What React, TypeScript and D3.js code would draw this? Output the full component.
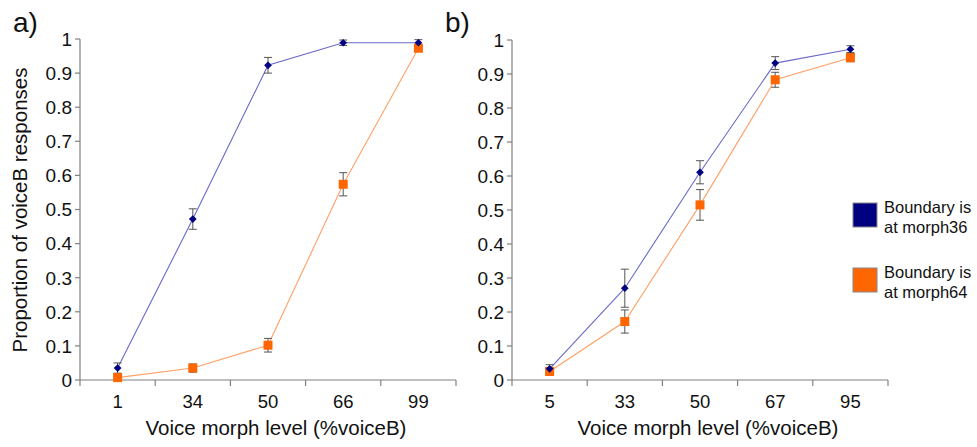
import React from 'react'
import * as d3 from 'd3'

// panel a
const levelsA = ['1', '34', '50', '66', '99']
const morph36A = [0.035, 0.472, 0.923, 0.989, 0.989]
const morph36ErrA = [0.015, 0.03, 0.023, 0.008, 0.009]
const morph64A = [0.007, 0.035, 0.102, 0.574, 0.973]
const morph64ErrA = [0.01, 0.012, 0.02, 0.034, 0.01]

// panel b
const levelsB = ['5', '33', '50', '67', '95']
const morph36B = [0.033, 0.27, 0.611, 0.932, 0.973]
const morph36ErrB = [0.012, 0.056, 0.034, 0.019, 0.01]
const morph64B = [0.025, 0.172, 0.515, 0.883, 0.948]
const morph64ErrB = [0.01, 0.034, 0.045, 0.022, 0.012]

const yTicks = [0, 0.1, 0.2, 0.3, 0.4, 0.5, 0.6, 0.7, 0.8, 0.9, 1]
const legendLabels = [['Boundary is', 'at morph36'], ['Boundary is', 'at morph64']]

const FONT = '"Liberation Sans", Arial, Helvetica, sans-serif'
const NAVY = '#000080'
const ORANGE = '#ff6600'
const NAVY_LINE = '#6a6ac8'
const ORANGE_LINE = '#ffa066'
const AXIS = '#808080'
const ERR = '#555555'

type PanelProps = {
  letter: string
  levels: string[]
  blue: number[]
  blueErr: number[]
  orange: number[]
  orangeErr: number[]
  left: number
  right: number
  top: number
  bottom: number
}

function Panel({ letter, levels, blue, blueErr, orange, orangeErr, left, right, top, bottom }: PanelProps) {
  const x = d3.scaleBand<string>().domain(levels).range([left, right]).padding(0)
  const y = d3.scaleLinear().domain([0, 1]).range([bottom, top])
  const cx = (l: string) => (x(l) ?? 0) + x.bandwidth() / 2
  const line = d3.line<number>()
    .x((_, i) => cx(levels[i]))
    .y(d => y(d))

  const edges = levels.map(l => x(l) ?? 0).concat([right])
  // excel style diamond: a square turned 45 degrees
  const diamond = d3.symbol(d3.symbolSquare, 30)()

  const errBars = (vals: number[], errs: number[], key: string) =>
    vals.map((v, i) => {
      const px = cx(levels[i])
      const y1 = y(v + errs[i])
      const y2 = y(v - errs[i])
      return (
        <g key={key + i} stroke={ERR} strokeWidth={1}>
          <line x1={px} x2={px} y1={y1} y2={y2} />
          <line x1={px - 4} x2={px + 4} y1={y1} y2={y1} />
          <line x1={px - 4} x2={px + 4} y1={y2} y2={y2} />
        </g>
      )
    })

  return (
    <g fontFamily={FONT}>
      <text x={left - 67} y={32} fontSize={28} fill="#111">{letter}</text>

      {/* y axis */}
      <line x1={left} x2={left} y1={top} y2={bottom} stroke={AXIS} strokeWidth={1.2} />
      {yTicks.map(t => (
        <g key={'yt' + t}>
          <line x1={left - 5} x2={left} y1={y(t)} y2={y(t)} stroke={AXIS} strokeWidth={1.2} />
          <text x={left - 8} y={y(t)} dy="0.36em" textAnchor="end" fontSize={19} fill="#111">
            {d3.format('~g')(t)}
          </text>
        </g>
      ))}

      {/* x axis */}
      <line x1={left} x2={right} y1={bottom} y2={bottom} stroke={AXIS} strokeWidth={1.2} />
      {edges.map((e, i) => (
        <line key={'xt' + i} x1={e} x2={e} y1={bottom} y2={bottom + 6} stroke={AXIS} strokeWidth={1.2} />
      ))}
      {levels.map(l => (
        <text key={'xl' + l} x={cx(l)} y={bottom + 28} textAnchor="middle" fontSize={18.5} fill="#111">{l}</text>
      ))}
      <text x={(left + right) / 2 + 8} y={bottom + 55} textAnchor="middle" fontSize={20.5} fill="#111">
        Voice morph level (%voiceB)
      </text>

      {/* lines */}
      <path d={line(blue) ?? ''} fill="none" stroke={NAVY_LINE} strokeWidth={1.1} />
      <path d={line(orange) ?? ''} fill="none" stroke={ORANGE_LINE} strokeWidth={1.1} />

      {errBars(blue, blueErr, 'be')}
      {errBars(orange, orangeErr, 'oe')}

      {orange.map((v, i) => (
        <rect key={'os' + i} x={cx(levels[i]) - 4.5} y={y(v) - 4.5} width={9} height={9} fill={ORANGE} />
      ))}
      {blue.map((v, i) => (
        <path key={'bd' + i} d={diamond ?? ''} transform={`translate(${cx(levels[i])},${y(v)}) rotate(45)`} fill={NAVY} />
      ))}
    </g>
  )
}

export default function App() {
  const width = 977
  const height = 447
  const legendColors = [NAVY, ORANGE]
  const legendY = d3.scalePoint<number>().domain([0, 1]).range([203, 268])

  return (
    <svg width={width} height={height} style={{ display: 'block', position: 'absolute', left: 0, top: 0, background: '#fff' }}>
      <rect width={width} height={height} fill="#fff" />
      <Panel letter="a)" levels={levelsA} blue={morph36A} blueErr={morph36ErrA}
        orange={morph64A} orangeErr={morph64ErrA} left={80} right={456} top={39} bottom={380} />
      <Panel letter="b)" levels={levelsB} blue={morph36B} blueErr={morph36ErrB}
        orange={morph64B} orangeErr={morph64ErrB} left={512} right={888} top={40} bottom={380} />

      <text transform="translate(27,210) rotate(-90)" textAnchor="middle" fontSize={20.5} fontFamily={FONT} fill="#111">
        Proportion of voiceB responses
      </text>

      {legendLabels.map((lines, i) => {
        const ly = legendY(i) ?? 0
        return (
          <g key={'lg' + i} fontFamily={FONT}>
            <rect x={853} y={ly} width={24} height={24} fill={legendColors[i]} stroke="#888" strokeWidth={1} />
            <text x={884} y={ly + 10} fontSize={16.5} fill="#111">{lines[0]}</text>
            <text x={884} y={ly + 30} fontSize={16.5} fill="#111">{lines[1]}</text>
          </g>
        )
      })}
    </svg>
  )
}
